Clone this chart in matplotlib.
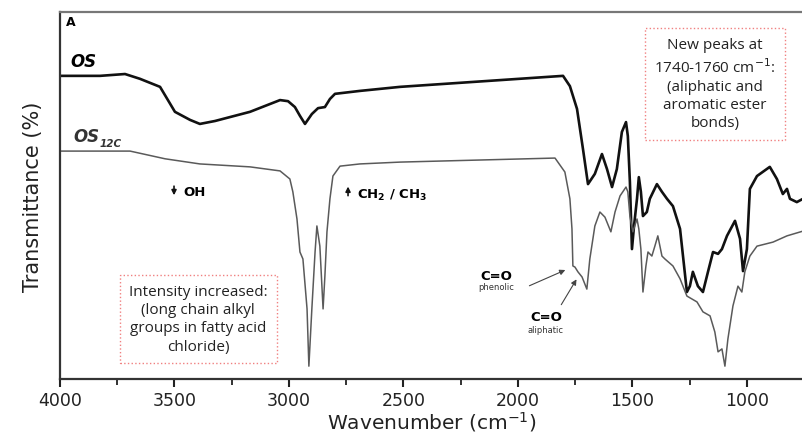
import matplotlib
matplotlib.use("Agg")
import matplotlib.pyplot as plt
from matplotlib.ticker import MultipleLocator

# OS spectrum (wavenumber cm-1, transmittance arbitrary %)
os_wn = [4000, 3825, 3716, 3651, 3563, 3498, 3432, 3389, 3323, 3170, 3039, 3004, 2974,
         2952, 2930, 2900, 2873, 2843, 2821, 2799, 2690, 2515, 1803, 1773, 1742, 1716,
         1694, 1664, 1633, 1611, 1589, 1568, 1546, 1528, 1520, 1511, 1502, 1493, 1480,
         1472, 1463, 1454, 1437, 1424, 1393, 1371, 1349, 1323, 1292, 1262, 1249, 1236,
         1214, 1192, 1170, 1148, 1126, 1109, 1087, 1052, 1030, 1017, 1000, 987, 956,
         900, 869, 843, 825, 812, 782, 755]
os_t = [82.6, 82.6, 83.1, 81.8, 79.6, 72.8, 70.6, 69.5, 70.3, 72.8, 76.0, 75.7, 74.1,
        71.7, 69.5, 72.2, 73.8, 74.1, 76.3, 77.7, 78.5, 79.6, 82.6, 79.8, 73.6, 62.7,
        53.1, 55.9, 61.3, 57.2, 52.3, 57.2, 67.3, 70.0, 66.2, 53.7, 35.4, 41.7, 49.1,
        55.0, 51.0, 44.4, 45.5, 49.1, 53.1, 51.0, 49.1, 47.1, 40.9, 23.7, 25.3, 29.2,
        25.3, 23.7, 29.2, 34.6, 34.1, 35.4, 39.0, 43.1, 38.2, 29.4, 35.4, 51.8, 55.3,
        57.8, 54.5, 50.4, 51.8, 49.1, 48.2, 49.1]

# OS12C spectrum
os12_wn = [4000, 3694, 3541, 3389, 3170, 3039, 2996, 2983, 2965, 2952, 2939, 2921, 2913,
           2900, 2886, 2878, 2865, 2851, 2843, 2834, 2821, 2808, 2777, 2690, 2515, 1838,
           1795, 1773, 1764, 1760, 1751, 1738, 1720, 1699, 1686, 1664, 1642, 1620, 1594,
           1576, 1554, 1528, 1520, 1511, 1498, 1480, 1472, 1463, 1454, 1441, 1432, 1415,
           1402, 1389, 1371, 1358, 1323, 1292, 1262, 1240, 1218, 1192, 1161, 1140, 1126,
           1109, 1096, 1083, 1061, 1039, 1022, 1009, 987, 956, 886, 825, 755]
os12_t = [62.1, 62.1, 60.0, 58.6, 57.8, 56.7, 54.5, 51.0, 43.6, 34.6, 32.7, 19.1, 3.5,
          19.1, 34.6, 41.7, 36.2, 19.1, 28.1, 40.1, 49.1, 55.3, 58.0, 58.6, 59.1, 60.2,
          56.4, 49.1, 40.9, 30.8, 30.5, 29.2, 27.8, 24.5, 32.7, 41.7, 45.5, 44.1, 40.1,
          45.5, 49.9, 52.3, 51.0, 44.4, 40.1, 43.6, 40.9, 35.4, 23.7, 30.8, 34.6, 33.5,
          36.2, 39.0, 33.5, 32.7, 30.8, 27.3, 22.6, 21.8, 21.0, 18.3, 17.2, 12.8, 7.4,
          8.2, 3.5, 10.9, 19.9, 25.3, 23.7, 29.2, 33.5, 36.2, 37.3, 39.0, 40.3]

fig = plt.figure(figsize=(8.03, 4.39), dpi=100)
ax = fig.add_axes([0.0747, 0.1344, 0.9253, 0.836])

ax.plot(os_wn, os_t, color="#111111", lw=1.9)
ax.plot(os12_wn, os12_t, color="#5a5a5a", lw=1.1)

ax.set_xlim(4000, 755)
ax.set_ylim(0, 100)
ax.set_yticks([])
ax.xaxis.set_major_locator(MultipleLocator(500))
ax.xaxis.set_minor_locator(MultipleLocator(250))
ax.tick_params(axis="x", which="major", direction="out", length=6, width=1.5,
               labelsize=12.5, colors="#222222", pad=3)
ax.tick_params(axis="x", which="minor", direction="out", length=4, width=1.3, colors="#222222")
for s in ["left", "bottom", "top"]:
    ax.spines[s].set_linewidth(1.6)
    ax.spines[s].set_color("#333333")
ax.spines["top"].set_color("#777777")
ax.spines["right"].set_visible(False)

ax.set_xlabel("Wavenumber (cm$^{-1}$)", fontsize=14.5, color="#222222", labelpad=0)
ax.set_ylabel("Transmittance (%)", fontsize=15, color="#222222", labelpad=12)

ax.text(3975, 97.5, "A", fontsize=9, fontweight="bold", va="center", ha="left")
ax.text(3956, 86.6, "OS", fontsize=12, fontweight="bold", style="italic", va="center")
ax.text(3943, 66.2, "OS", fontsize=12, fontweight="bold", style="italic", va="center",
        color="#333333")
ax.text(3828, 64.2, "12C", fontsize=7.5, fontweight="bold", style="italic", va="center",
        color="#333333")

ax.annotate("", xy=(3502, 49.3), xytext=(3502, 53.3),
            arrowprops=dict(arrowstyle="-|>", color="#111111", lw=1.2, mutation_scale=7))
ax.text(3463, 51.2, "OH", fontsize=9.5, fontweight="bold", va="center")
ax.annotate("", xy=(2742, 53.2), xytext=(2742, 49.2),
            arrowprops=dict(arrowstyle="-|>", color="#111111", lw=1.2, mutation_scale=7))
ax.text(2703, 50.4, r"CH$_\mathbf{2}$ / CH$_\mathbf{3}$", fontsize=9.5, fontweight="bold",
        va="center")

box = dict(boxstyle="square,pad=0.6", fc="white", ec="#f08080", ls=":", lw=1.0)
ax.text(1140, 80.4, "New peaks at\n1740-1760 cm$^{-1}$:\n(aliphatic and\naromatic ester\nbonds)",
        ha="center", va="center", fontsize=11, family="Open Sans", color="#222222",
        linespacing=1.3, bbox=box)
ax.text(3397, 16.4, "Intensity increased:\n(long chain alkyl\ngroups in fatty acid\nchloride)",
        ha="center", va="center", fontsize=11, family="Open Sans", color="#222222",
        linespacing=1.3, bbox=box)

ax.text(2096, 28.1, "C=O", fontsize=9.5, fontweight="bold", ha="center", va="center")
ax.text(2096, 25.1, "phenolic", fontsize=6, ha="center", va="center", color="#333333")
ax.annotate("", xy=(1782, 30.0), xytext=(1961, 25.1),
            arrowprops=dict(arrowstyle="-|>", color="#444444", lw=0.8, mutation_scale=8))
ax.text(1878, 16.9, "C=O", fontsize=9.5, fontweight="bold", ha="center", va="center")
ax.text(1878, 13.6, "aliphatic", fontsize=6, ha="center", va="center", color="#333333")
ax.annotate("", xy=(1738, 27.8), xytext=(1817, 19.6),
            arrowprops=dict(arrowstyle="-|>", color="#444444", lw=0.8, mutation_scale=8))

fig.savefig("out.png", dpi=100)
